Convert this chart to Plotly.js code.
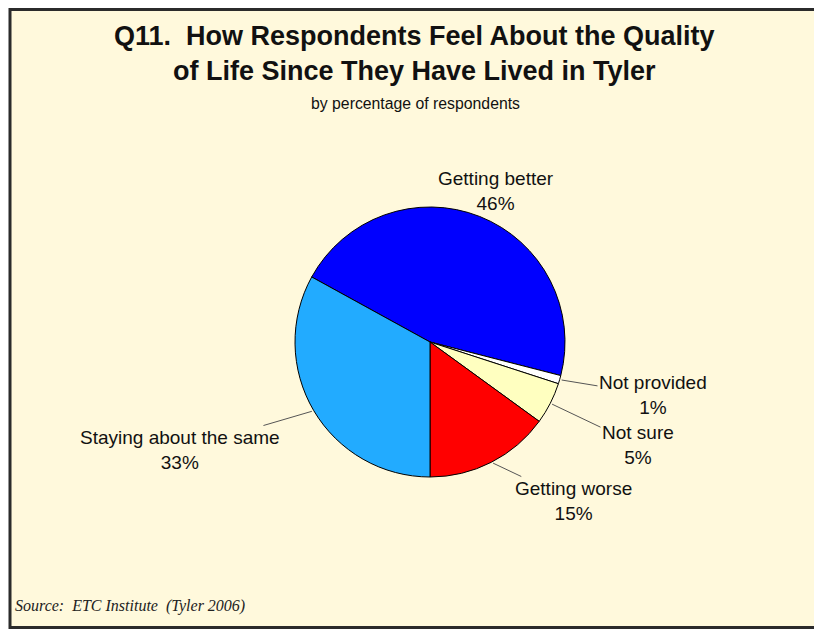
<!DOCTYPE html>
<html>
<head>
<meta charset="utf-8">
<script src="https://cdn.plot.ly/plotly-3.0.1.min.js"></script>
<style>html,body{margin:0;padding:0;background:#fff;overflow:hidden;}#chart{width:814px;height:629px;}</style>
</head>
<body>
<div id="chart"></div>
<script>
// Data
const categories = ["Getting better", "Not provided", "Not sure", "Getting worse", "Staying about the same"];
const percents = [46, 1, 5, 15, 33];
const sliceColors = ["#0000FF", "#FFFFFF", "#FFFFC0", "#FF0000", "#22ABFF"];

// Layout helpers (positions in pixels of the 814x629 page)
const W = 814, H = 629;
const pieCx = 430, pieCy = 342, pieR = 135;
const rotationDeg = -61.2;
const labelPos = [[496, 191], [653, 395], [638, 445], [573, 501], [180, 450]];

const total = percents.reduce((a, b) => a + b, 0);
let cum = 0;
const labelAnns = categories.map((c, i) => {
  const mid = (rotationDeg + (cum + percents[i] / 2) / total * 360) * Math.PI / 180;
  cum += percents[i];
  const tipX = pieCx + pieR * Math.sin(mid);
  const tipY = pieCy - pieR * Math.cos(mid);
  return {
    text: c + "<br>" + percents[i] + "%",
    xref: "paper", yref: "paper",
    x: tipX / W, y: 1 - tipY / H,
    ax: labelPos[i][0] - tipX, ay: labelPos[i][1] - tipY,
    showarrow: true, arrowhead: 0, arrowwidth: 1, arrowcolor: "#555555", standoff: 2,
    font: {family: "Liberation Sans, Arial, sans-serif", size: 19, color: "#111111"},
    align: "center"
  };
});

const trace = {
  type: "pie",
  labels: categories,
  values: percents,
  sort: false,
  direction: "clockwise",
  rotation: rotationDeg,
  marker: {colors: sliceColors, line: {color: "#000000", width: 1}},
  textinfo: "none",
  hoverinfo: "label+percent",
  showlegend: false,
  domain: {
    x: [(pieCx - pieR) / W, (pieCx + pieR) / W],
    y: [1 - (pieCy + pieR) / H, 1 - (pieCy - pieR) / H]
  }
};

const frameL = 10 / W, frameT = 1 - 9.5 / H, frameB = 1.5 / H;
const border = {color: "#2B2B2B", width: 3};
const layout = {
  width: W, height: H,
  margin: {l: 0, r: 0, t: 0, b: 0},
  paper_bgcolor: "#FFFFFF",
  showlegend: false,
  shapes: [
    {type: "rect", xref: "paper", yref: "paper", layer: "below",
     x0: frameL, x1: 1, y0: frameB, y1: frameT,
     fillcolor: "#FFF9DC", line: {width: 0}},
    {type: "line", xref: "paper", yref: "paper", layer: "below",
     x0: frameL, x1: 1, y0: frameT, y1: frameT, line: border},
    {type: "line", xref: "paper", yref: "paper", layer: "below",
     x0: frameL, x1: 1, y0: frameB, y1: frameB, line: border},
    {type: "line", xref: "paper", yref: "paper", layer: "below",
     x0: frameL, x1: frameL, y0: frameB - 1.5 / H, y1: frameT + 1.5 / H, line: border}
  ],
  annotations: labelAnns.concat([
    {text: "<b>Q11.&nbsp; How Respondents Feel About the Quality<br>of Life Since They Have Lived in Tyler</b>",
     xref: "paper", yref: "paper", x: 414 / W, y: 1 - 54 / H, showarrow: false,
     xanchor: "center", yanchor: "middle", align: "center",
     font: {family: "Liberation Sans, Arial, sans-serif", size: 27, color: "#111111"}},
    {text: "by percentage of respondents", xref: "paper", yref: "paper",
     x: 415 / W, y: 1 - 103 / H, showarrow: false, xanchor: "center", yanchor: "middle",
     font: {family: "Liberation Sans, Arial, sans-serif", size: 15.8, color: "#111111"}},
    {text: "<i>Source:&nbsp; ETC Institute&nbsp; (Tyler 2006)</i>", xref: "paper", yref: "paper",
     x: 13 / W, y: 1 - 606 / H, showarrow: false, xanchor: "left", yanchor: "middle",
     font: {family: "Liberation Serif, Times New Roman, serif", size: 16, color: "#222222"}}
  ])
};

Plotly.newPlot("chart", [trace], layout, {displayModeBar: false, staticPlot: true});
</script>
</body>
</html>
